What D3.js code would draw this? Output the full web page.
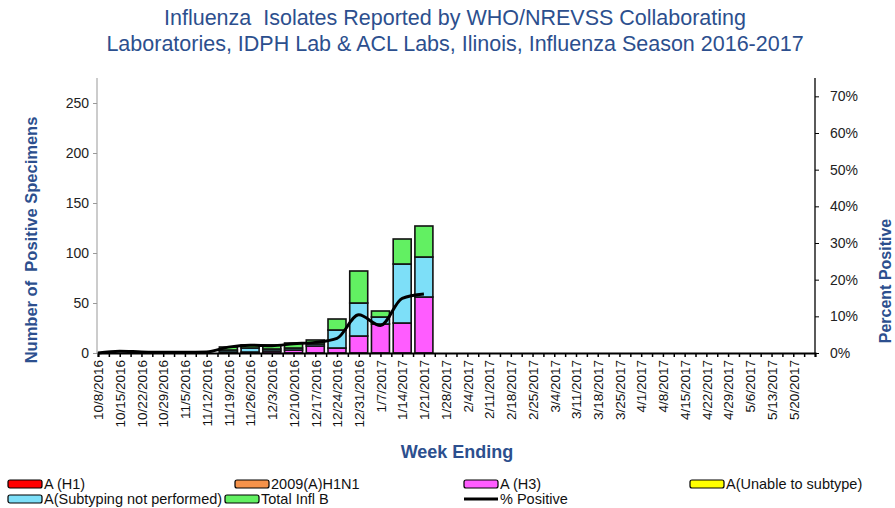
<!DOCTYPE html>
<html>
<head>
<meta charset="utf-8">
<script src="https://cdn.jsdelivr.net/npm/d3@7"></script>
<style>
  body { margin: 0; background: #fff; }
  svg { font-family: "Liberation Sans", Arial, sans-serif; }
</style>
</head>
<body>
<div id="vis"></div>
<script>
// week ending labels (one per category)
var weeks = ["10/8/2016", "10/15/2016", "10/22/2016", "10/29/2016", "11/5/2016", "11/12/2016",
  "11/19/2016", "11/26/2016", "12/3/2016", "12/10/2016", "12/17/2016", "12/24/2016",
  "12/31/2016", "1/7/2017", "1/14/2017", "1/21/2017", "1/28/2017", "2/4/2017", "2/11/2017",
  "2/18/2017", "2/25/2017", "3/4/2017", "3/11/2017", "3/18/2017", "3/25/2017", "4/1/2017",
  "4/8/2017", "4/15/2017", "4/22/2017", "4/29/2017", "5/6/2017", "5/13/2017", "5/20/2017"];

// series values
var aH1     = [0,0,0,0,0,0,0,0,0,0,0,0,0,0,0,0, 0,0,0,0,0,0,0,0,0,0,0,0,0,0,0,0,0];
var aH1N1   = [0,0,0,0,0,0,0,0,0,0,0,0,0,0,0,0, 0,0,0,0,0,0,0,0,0,0,0,0,0,0,0,0,0];
var aH3     = [0,0,0,0,0,0,1,1,2,3,7,5,17,29,30,56, 0,0,0,0,0,0,0,0,0,0,0,0,0,0,0,0,0];
var aUnable = [0,0,0,0,0,0,0,0,0,0,0,0,0,0,0,0, 0,0,0,0,0,0,0,0,0,0,0,0,0,0,0,0,0];
var aNotPerf = [0,0,0,0,0,0,2,4,2,2,2,18,33,7,59,40, 0,0,0,0,0,0,0,0,0,0,0,0,0,0,0,0,0];
var totalB  = [0,0,0,0,0,0,3,3,4,5,4,11,32,6,25,31, 0,0,0,0,0,0,0,0,0,0,0,0,0,0,0,0,0];
var pctPositive = [0, 0.5, 0.3, 0.2, 0.2, 0.3, 1.6, 2.1, 2.0, 2.5, 2.9, 4.0, 10.4, 7.5, 14.9, 16.1];

var leftTicks = [0, 50, 100, 150, 200, 250];
var rightTicks = [0, 10, 20, 30, 40, 50, 60, 70];

var seriesKeys = ["h1", "h1n1", "h3", "unable", "notperf", "b"];
var seriesNames = ["A (H1)", "2009(A)H1N1", "A (H3)", "A(Unable to subtype)", "A(Subtyping not performed)", "Total Infl B"];
var seriesColors = ["#ff0000", "#f5924a", "#ff5cff", "#ffff00", "#7ddff8", "#62f062"];

/* Initial Setup */
var width = 895, height = 508;
var plotLeft = 97, plotRight = 815, plotTop = 78, plotBottom = 353;
var blue = "#2c4f8e";

var svg = d3.select("#vis").append("svg")
    .attr("width", width)
    .attr("height", height);

// one row per week for the stack
var table = weeks.map(function(w, i) {
  return {i: i, h1: aH1[i], h1n1: aH1N1[i], h3: aH3[i], unable: aUnable[i], notperf: aNotPerf[i], b: totalB[i]};
});

var x = d3.scaleLinear().domain([0, weeks.length]).range([plotLeft + 1, plotRight]);
var y = d3.scaleLinear().domain([0, 275]).range([plotBottom, plotTop]);
var yPct = d3.scaleLinear().domain([0, 75]).range([plotBottom, plotTop]);

// title
svg.append("text")
    .attr("x", 455).attr("y", 25)
    .attr("text-anchor", "middle")
    .attr("font-size", "21.5px")
    .attr("fill", blue)
    .attr("xml:space", "preserve")
    .text("Influenza  Isolates Reported by WHO/NREVSS Collaborating");
svg.append("text")
    .attr("x", 455).attr("y", 51)
    .attr("text-anchor", "middle")
    .attr("font-size", "21.5px")
    .attr("fill", blue)
    .text("Laboratories, IDPH Lab & ACL Labs, Ilinois, Influenza Season 2016-2017");

// left axis
var yAxis = svg.append("g")
    .attr("transform", "translate(" + plotLeft + ",0)")
    .call(d3.axisLeft(y).tickValues(leftTicks).tickSize(4).tickPadding(4));
yAxis.select(".domain").attr("d", "M0," + plotTop + "V" + plotBottom).attr("stroke", "#999");
yAxis.selectAll(".tick line").attr("stroke", "#999");
yAxis.selectAll("text").attr("font-size", "14px").attr("fill", "#222");

// right axis
var rAxis = svg.append("g")
    .attr("transform", "translate(" + plotRight + ",0)")
    .call(d3.axisRight(yPct).tickValues(rightTicks).tickSize(4).tickPadding(11)
      .tickFormat(function(d) { return d + "%"; }));
rAxis.select(".domain").attr("d", "M0," + plotTop + "V" + plotBottom).attr("stroke", "#000").attr("stroke-width", 1.3);
rAxis.selectAll("text").attr("font-size", "14px").attr("fill", "#222");

// stacked bars
var stacked = d3.stack().keys(seriesKeys)(table);
var barW = 18;
svg.append("g").selectAll("g")
  .data(stacked)
  .enter().append("g")
    .attr("fill", function(d, k) { return seriesColors[k]; })
  .selectAll("rect")
  .data(function(d) { return d.filter(function(s) { return s[1] - s[0] > 0; }); })
  .enter().append("rect")
    .attr("x", function(d) { return x(d.data.i) - barW / 2; })
    .attr("y", function(d) { return y(d[1]); })
    .attr("width", barW)
    .attr("height", function(d) { return y(d[0]) - y(d[1]); })
    .attr("stroke", "#111")
    .attr("stroke-width", 1.6);

// bottom axis: minor ticks every half week
var xMinor = svg.append("g")
    .attr("transform", "translate(0," + plotBottom + ")")
    .call(d3.axisBottom(x).tickValues(d3.range(0, weeks.length + 0.5, 0.5)).tickSize(4).tickFormat(""));
xMinor.select(".domain").attr("stroke-width", 2);
xMinor.selectAll(".tick line").attr("stroke-width", 1.5);

// week labels
var xAxis = svg.append("g")
    .attr("transform", "translate(0," + plotBottom + ")")
    .call(d3.axisBottom(x).tickValues(d3.range(weeks.length)).tickSize(0)
      .tickFormat(function(i) { return weeks[i]; }));
xAxis.select(".domain").remove();
xAxis.selectAll("text")
    .attr("transform", "rotate(-90)")
    .attr("x", -7)
    .attr("y", 0)
    .attr("dy", "0.35em")
    .attr("text-anchor", "end")
    .attr("font-size", "13.5px")
    .attr("fill", "#111");

// percent positive line
var line = d3.line()
    .x(function(d, i) { return x(i); })
    .y(function(d) { return yPct(d); })
    .curve(d3.curveMonotoneX);
svg.append("path")
    .datum(pctPositive)
    .attr("d", line)
    .attr("fill", "none")
    .attr("stroke", "#000")
    .attr("stroke-width", 3);

// axis titles
svg.append("text")
    .attr("transform", "translate(37,240) rotate(-90)")
    .attr("text-anchor", "middle")
    .attr("font-size", "16.5px")
    .attr("font-weight", "bold")
    .attr("fill", blue)
    .attr("xml:space", "preserve")
    .text("Number of  Positive Specimens");
svg.append("text")
    .attr("transform", "translate(891,281) rotate(-90)")
    .attr("text-anchor", "middle")
    .attr("font-size", "16px")
    .attr("font-weight", "bold")
    .attr("fill", blue)
    .text("Percent Positive");
svg.append("text")
    .attr("x", 457).attr("y", 458)
    .attr("text-anchor", "middle")
    .attr("font-size", "18px")
    .attr("font-weight", "bold")
    .attr("fill", blue)
    .text("Week Ending");

// legend
var legendPos = [[8, 484], [235, 484], [464, 484], [690, 484], [8, 499], [225, 499]];
var legend = svg.append("g");
seriesNames.forEach(function(name, k) {
  var p = legendPos[k];
  legend.append("rect")
    .attr("x", p[0]).attr("y", p[1] - 4)
    .attr("width", 34).attr("height", 8)
    .attr("rx", 2)
    .attr("fill", seriesColors[k])
    .attr("stroke", "#000")
    .attr("stroke-width", 1.2);
  legend.append("text")
    .attr("x", p[0] + 36).attr("y", p[1] + 5)
    .attr("font-size", "14.5px")
    .attr("fill", "#111")
    .text(name);
});
legend.append("line")
    .attr("x1", 464).attr("x2", 498)
    .attr("y1", 499).attr("y2", 499)
    .attr("stroke", "#000")
    .attr("stroke-width", 3);
legend.append("text")
    .attr("x", 500).attr("y", 504)
    .attr("font-size", "14.5px")
    .attr("fill", "#111")
    .text("% Positive");
</script>
</body>
</html>
